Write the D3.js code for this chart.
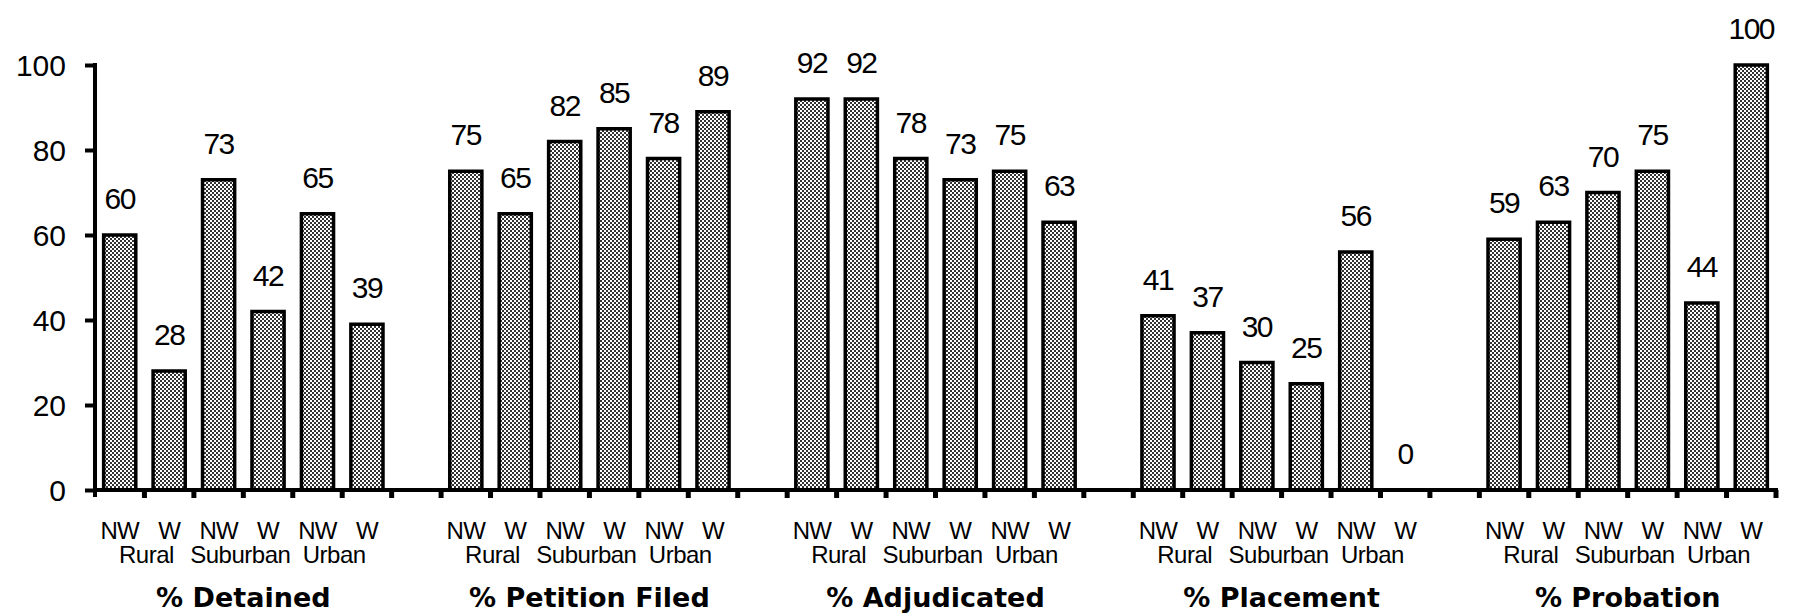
<!DOCTYPE html>
<html>
<head>
<meta charset="utf-8">
<script src="https://cdn.jsdelivr.net/npm/d3@7"></script>
<style>
  html, body { margin: 0; padding: 0; background: #fff; }
  svg { display: block; }
</style>
</head>
<body>
<svg id="chart" width="1793" height="616"></svg>
<script>
// ---- Data ----
const measures = ["% Detained", "% Petition Filed", "% Adjudicated", "% Placement", "% Probation"];
const locations = ["Rural", "Suburban", "Urban"];
const races = ["NW", "W"];
// values per measure, order: Rural NW, Rural W, Suburban NW, Suburban W, Urban NW, Urban W
const detained     = [60, 28, 73, 42, 65, 39];
const petition     = [75, 65, 82, 85, 78, 89];
const adjudicated  = [92, 92, 78, 73, 75, 63];
const placement    = [41, 37, 30, 25, 56, 0];
const probation    = [59, 63, 70, 75, 44, 100];
const seriesValues = [detained, petition, adjudicated, placement, probation];
const yTicks = [0, 20, 40, 60, 80, 100];

// ---- Build keyed records ----
const records = [];
const domain = [];
measures.forEach((m, g) => {
  locations.forEach((loc, li) => {
    races.forEach((r, ri) => {
      const key = m + "|" + loc + "|" + r;
      domain.push(key);
      records.push({ key, measure: m, g, loc, li, race: r, value: seriesValues[g][li * 2 + ri] });
    });
  });
  if (g < measures.length - 1) domain.push("gap" + g);
});

const svg = d3.select("#chart");
const left = 95, right = 1776, y0 = 490, y100 = 65;

const x = d3.scaleBand().domain(domain).range([left, right]).paddingInner(0.35).paddingOuter(0.175);
const y = d3.scaleLinear().domain([0, 100]).range([y0, y100]);
const step = x.step();

// pattern (halftone-like checker)
const defs = svg.append("defs");
const pat = defs.append("pattern").attr("id", "dots").attr("patternUnits", "userSpaceOnUse")
  .attr("width", 4).attr("height", 4);
pat.append("rect").attr("width", 4).attr("height", 4).attr("fill", "#fff");
pat.append("rect").attr("x", 0).attr("y", 0).attr("width", 2).attr("height", 2).attr("fill", "#333");
pat.append("rect").attr("x", 2).attr("y", 2).attr("width", 2).attr("height", 2).attr("fill", "#333");

// bars
svg.append("g").selectAll("rect").data(records.filter(d => d.value > 0)).join("rect")
  .attr("x", d => x(d.key))
  .attr("y", d => y(d.value))
  .attr("width", x.bandwidth())
  .attr("height", d => y(0) - y(d.value))
  .attr("fill", "url(#dots)")
  .attr("stroke", "#000")
  .attr("stroke-width", 3.5);

// value labels
svg.append("g").selectAll("text").data(records).join("text")
  .attr("x", d => x(d.key) + x.bandwidth() / 2)
  .attr("y", d => y(d.value) - 26)
  .attr("text-anchor", "middle")
  .attr("font-family", "Liberation Sans, Arial, sans-serif")
  .attr("font-size", 30)
  .attr("letter-spacing", -1.5)
  .attr("fill", "#000")
  .text(d => d.value);

// y axis
const yAxis = d3.axisLeft(y).tickValues(yTicks).tickSize(10).tickPadding(19).tickFormat(d3.format("d"));
const ya = svg.append("g").attr("transform", `translate(${left},0)`).call(yAxis);
ya.select(".domain").remove();
ya.selectAll(".tick line").attr("stroke", "#000").attr("stroke-width", 4);
ya.selectAll(".tick text").attr("font-family", "Liberation Sans, Arial, sans-serif")
  .attr("font-size", 30).attr("fill", "#000").attr("dy", "0.36em");
svg.append("line").attr("x1", left).attr("x2", left).attr("y1", y(100) - 2).attr("y2", y0 + 7)
  .attr("stroke", "#000").attr("stroke-width", 4);

// x axis line
svg.append("line").attr("x1", left - 2).attr("x2", right + 2).attr("y1", y0).attr("y2", y0)
  .attr("stroke", "#000").attr("stroke-width", 4);

// band boundary ticks
const boundaries = domain.map(k => x(k) - step * 0.175).concat([x(domain[domain.length - 1]) + x.bandwidth() + step * 0.175]);
svg.append("g").selectAll("rect").data(boundaries.slice(1)).join("rect")
  .attr("x", d => d - 2.5)
  .attr("y", y0)
  .attr("width", 5)
  .attr("height", 8)
  .attr("fill", "#000");

// race labels
svg.append("g").selectAll("text").data(records).join("text")
  .attr("x", d => x(d.key) + x.bandwidth() / 2)
  .attr("y", 539)
  .attr("text-anchor", "middle")
  .attr("font-family", "Liberation Sans, Arial, sans-serif")
  .attr("font-size", 24)
  .attr("letter-spacing", -0.8)
  .attr("fill", "#000")
  .text(d => d.race);

// location labels
const locOffsets = [2, -3, -8];
const locRecs = records.filter(d => d.race === "NW");
svg.append("g").selectAll("text").data(locRecs).join("text")
  .attr("x", d => x(d.key) + x.bandwidth() / 2 + step / 2 + locOffsets[d.li])
  .attr("y", 563)
  .attr("text-anchor", "middle")
  .attr("font-family", "Liberation Sans, Arial, sans-serif")
  .attr("font-size", 24)
  .attr("letter-spacing", -0.5)
  .attr("fill", "#000")
  .text(d => d.loc);

// measure titles
svg.append("g").selectAll("text").data(measures).join("text")
  .attr("x", (m, g) => {
    const a = x(m + "|Rural|NW"), b = x(m + "|Urban|W") + x.bandwidth();
    return (a + b) / 2;
  })
  .attr("y", 607)
  .attr("text-anchor", "middle")
  .attr("font-family", "DejaVu Sans, sans-serif")
  .attr("font-weight", "bold")
  .attr("font-size", 27)
  .attr("fill", "#000")
  .text(d => d);
</script>
</body>
</html>
